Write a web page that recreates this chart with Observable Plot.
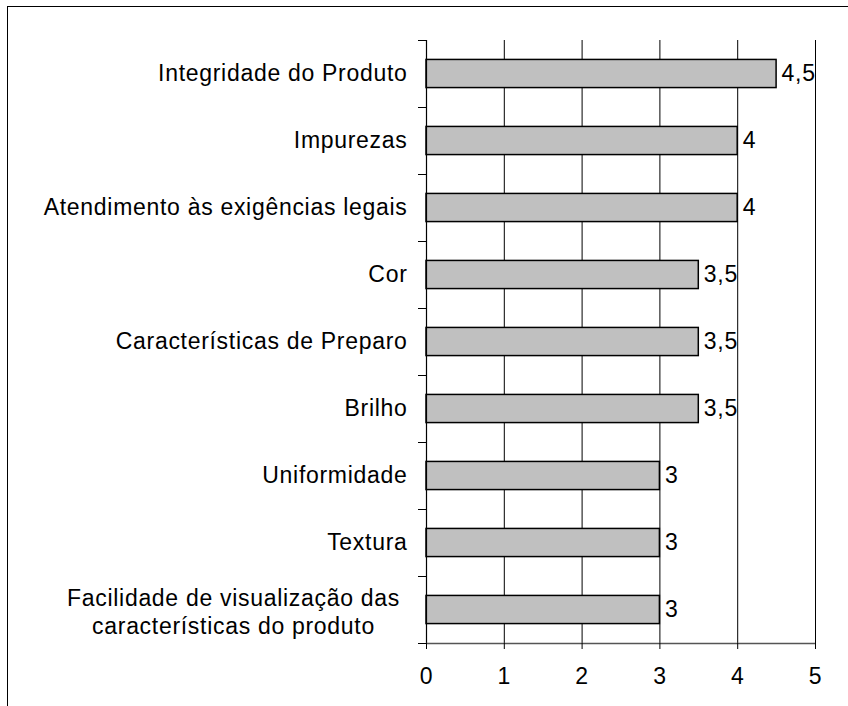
<!DOCTYPE html>
<html>
<head>
<meta charset="utf-8">
<script src="https://cdn.jsdelivr.net/npm/d3@7"></script>
<script src="https://cdn.jsdelivr.net/npm/@observablehq/plot@0.6"></script>
<style>
  html, body { margin: 0; padding: 0; background: #fff; }
  #wrap { position: relative; width: 848px; height: 706px; overflow: hidden; }
  #frame { position: absolute; left: 7px; top: 6px; width: 900px; height: 800px; border: 1.5px solid #000; box-sizing: border-box; }
  #chart { position: absolute; left: 0; top: 0; }
  #chart text { letter-spacing: 0.7px; }
</style>
</head>
<body>
<div id="wrap"><div id="frame"></div><div id="chart"></div></div>
<script>
const categories = [
  "Integridade do Produto",
  "Impurezas",
  "Atendimento às exigências legais",
  "Cor",
  "Características de Preparo",
  "Brilho",
  "Uniformidade",
  "Textura",
  "Facilidade de visualização das\ncaracterísticas do produto"
];
const values = [4.5, 4, 4, 3.5, 3.5, 3.5, 3, 3, 3];
const valueLabels = ["4,5", "4", "4", "3,5", "3,5", "3,5", "3", "3", "3"];
const xTicks = [0, 1, 2, 3, 4, 5];

const data = categories.map((c, i) => ({cat: c, idx: i, value: values[i], label: valueLabels[i]}));
const single = data.filter(d => !d.cat.includes("\n"));
const multi = data.filter(d => d.cat.includes("\n"));
const bounds = d3.range(categories.length + 1);

const chart = Plot.plot({
  width: 848,
  height: 706,
  marginLeft: 426,
  marginRight: 33,
  marginTop: 40,
  marginBottom: 63,
  style: {fontFamily: "'Liberation Sans', Arial, sans-serif", fontSize: "23px", color: "#000", background: "transparent"},
  x: {type: "linear", domain: [0, 5], axis: null},
  y: {type: "linear", domain: [0, categories.length], reverse: true, axis: null},
  marks: [
    Plot.ruleX(xTicks.filter(t => t > 0), {stroke: "#000", strokeWidth: 1}),
    Plot.rectX(data, {x1: 0, x2: "value", y1: d => d.idx + 0.29, y2: d => d.idx + 0.71, fill: "#c0c0c0", stroke: "#000", strokeWidth: 1.5}),
    Plot.ruleX([0], {stroke: "#000", strokeWidth: 1.2}),
    Plot.ruleY([categories.length], {stroke: "#555", strokeWidth: 1.5}),
    Plot.axisY({ticks: bounds, tickSize: 8, tickFormat: () => "", stroke: "#000", label: null}),
    Plot.axisX({ticks: xTicks, tickSize: 6, tickPadding: 18, fontSize: 23, stroke: "#000", tickFormat: d => String(d), label: null}),
    Plot.text(data, {x: "value", y: d => d.idx + 0.5, text: "label", textAnchor: "start", dx: 5, fontSize: 23, fill: "#000"}),
    Plot.text(single, {x: 0, y: d => d.idx + 0.5, text: "cat", textAnchor: "end", dx: -19, fontSize: 23, fill: "#000"}),
    Plot.text(multi, {x: 0, y: d => d.idx + 0.5, text: "cat", textAnchor: "middle", dx: -193, dy: 1, lineHeight: 1.22, fontSize: 23, fill: "#000"})
  ]
});
document.getElementById("chart").appendChild(chart);
</script>
</body>
</html>
